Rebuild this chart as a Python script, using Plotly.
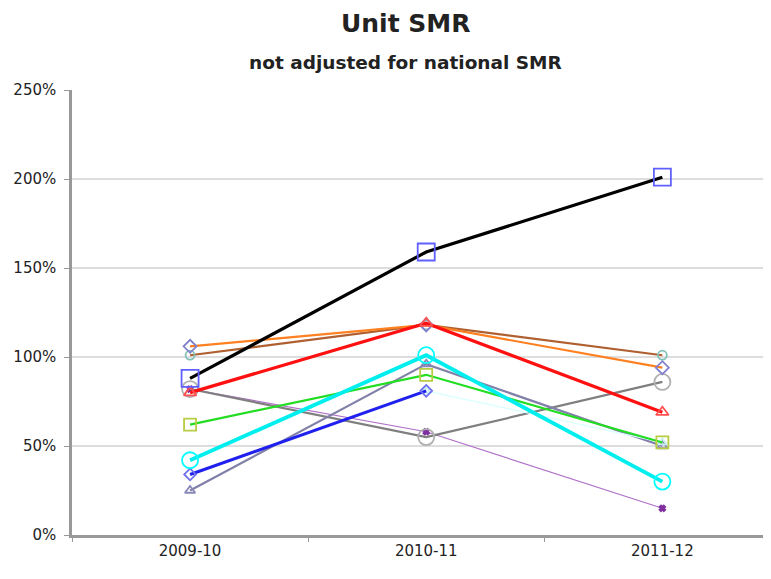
import plotly.graph_objects as go

years = ["2009-10", "2010-11", "2011-12"]

violet = [82, 58, 15]
gray = [82, 55, 86]
slate = [25, 96, 50]
lightcyan = [None, 81, 52]
blue = [34, 81, None]
green = [62, 90, 52]
brown = [101, 118, 101]
orange = [106, 118, 94]
red = [80, 119, 69]
cyan = [42, 101, 30]
black = [88, 159, 201]

series = [
    # name, values, line color, width, marker symbol, marker color, marker size
    ("Violet", violet, "#b070c8", 1.2, "x", "#8030a0", 5),
    ("Gray", gray, "#7f7f7f", 2.2, "circle-open", "#b0b0b0", 16),
    ("Slate", slate, "#8080a8", 2.2, "triangle-up-open", "#8888b8", 9),
    ("LightCyan", lightcyan, "#d8ffff", 1.2, "triangle-up-open", "#c8f0f0", 8),
    ("Blue", blue, "#2020ee", 3, "diamond-open", "#7070f0", 9),
    ("Green", green, "#22dd22", 2.2, "square-open", "#b8cc44", 12),
    ("Brown", brown, "#b06030", 2.2, "circle-open", "#80c0b8", 9),
    ("Orange", orange, "#ff8020", 2.2, "diamond-open", "#8080cc", 10),
    ("Red", red, "#ff1010", 3.2, "triangle-up-open", "#ff5050", 11),
    ("Cyan", cyan, "#00eeee", 3.8, "circle-open", "#00ffff", 16),
    ("Black", black, "#000000", 3.2, "square-open", "#6060ff", 17),
]

fig = go.Figure()
for name, vals, lc, lw, sym, mc, ms in series:
    fig.add_trace(go.Scatter(
        x=years, y=[v / 100 if v is not None else None for v in vals],
        mode="lines+markers", name=name,
        line=dict(color=lc, width=lw),
        marker=dict(symbol=sym, color=mc, size=ms, line=dict(color=mc, width=1.8)),
        connectgaps=False,
    ))

# page has an 8px body margin, so the figure is 8px smaller and offset
W, H = 763, 571
L, T, B, R = 64, 82, 44, 0
pw, ph = W - L - R, H - T - B

def px(x):
    return (x - 8 - L) / pw

def py(y):
    return 1 - (y - 8 - T) / ph

fig.update_layout(
    width=W, height=H,
    margin=dict(l=L, r=R, t=T, b=B),
    paper_bgcolor="white", plot_bgcolor="white",
    showlegend=False,
    font=dict(family="DejaVu Sans", color="#333333"),
    annotations=[
        dict(text="<b>Unit SMR</b>", x=px(405), y=py(23), xref="paper", yref="paper",
             xanchor="center", yanchor="middle", showarrow=False,
             font=dict(size=25, color="#222222")),
        dict(text="<b>not adjusted for national SMR</b>", x=px(405), y=py(62),
             xref="paper", yref="paper", xanchor="center", yanchor="middle",
             showarrow=False, font=dict(size=18.5, color="#222222")),
    ],
)

fig.update_xaxes(
    type="category", range=[-0.5, 2.46],
    showline=True, linecolor="#999999", linewidth=2.5,
    ticks="outside", tickson="boundaries", ticklen=4, tickcolor="#999999",
    showgrid=False, tickfont=dict(size=15, color="#222222"),
)
fig.update_yaxes(
    range=[0, 2.5], dtick=0.5, tickformat=".0%",
    showline=True, linecolor="#999999", linewidth=2.5,
    ticks="outside", ticklen=5, tickcolor="#999999", ticklabelstandoff=5,
    showgrid=True, gridcolor="#dddddd", gridwidth=1.5,
    zeroline=False, tickfont=dict(size=15, color="#222222"),
)

fig.write_html("out.html")
